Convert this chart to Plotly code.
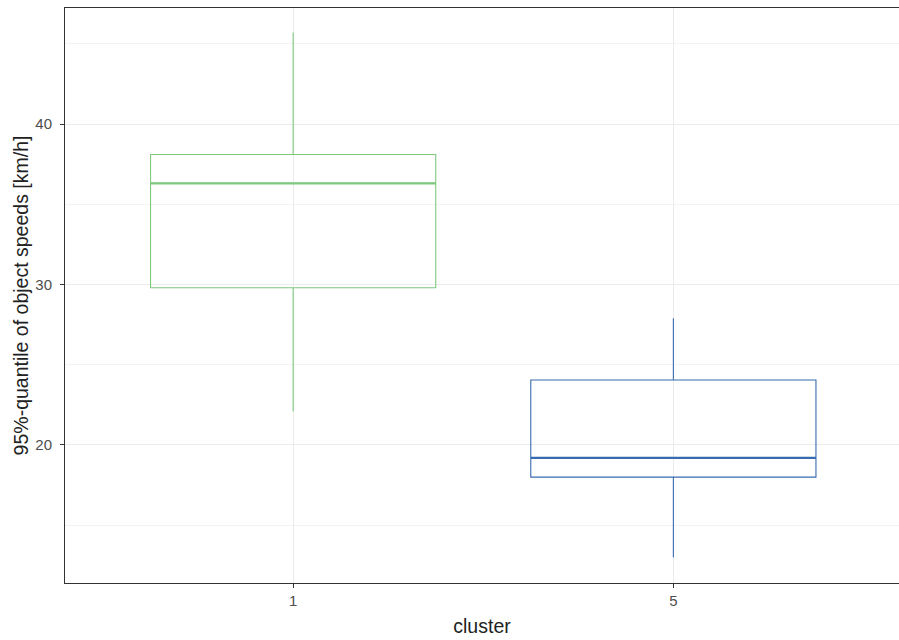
import plotly.graph_objects as go

clusters = ["1", "5"]
lower_whisker = [22.1, 13.0]
q1 = [29.8, 18.0]
median = [36.3, 19.2]
q3 = [38.1, 24.05]
upper_whisker = [45.7, 27.9]
colors = ["#7FC97F", "#386CB0"]

BOX_W = 0.75

fig = go.Figure()
for i, c in enumerate(clusters):
    fig.add_trace(go.Box(
        x=[i], q1=[q1[i]], median=[median[i]], q3=[q3[i]],
        lowerfence=[lower_whisker[i]], upperfence=[upper_whisker[i]],
        width=BOX_W, whiskerwidth=0,
        line=dict(color=colors[i], width=1.1),
        fillcolor="rgba(255,255,255,0)",
        showlegend=False, hoverinfo="skip",
    ))
    fig.add_trace(go.Scatter(
        x=[i - BOX_W / 2, i + BOX_W / 2], y=[median[i], median[i]],
        mode="lines", line=dict(color=colors[i], width=2.4),
        showlegend=False, hoverinfo="skip",
    ))

fig.update_layout(
    width=899, height=640,
    margin=dict(l=65, r=0, t=8, b=57),
    paper_bgcolor="white", plot_bgcolor="white",
    font=dict(family="Liberation Sans, Arial, sans-serif", color="#222222"),
)
fig.update_xaxes(
    range=[-0.6, 1.5934], tickmode="array", tickvals=list(range(len(clusters))),
    ticktext=clusters, showgrid=True, gridcolor="#EBEBEB", gridwidth=1,
    zeroline=False, showline=True, linecolor="#333333", linewidth=1, mirror=True,
    ticks="outside", ticklen=4, tickcolor="#333333",
    tickfont=dict(size=15, color="#4D4D4D"),
    title=dict(text="cluster", font=dict(size=19.5, color="#222222"), standoff=11),
    automargin=False,
)
fig.update_yaxes(
    range=[11.4, 47.23], tickmode="array", tickvals=[20, 30, 40],
    showgrid=True, gridcolor="#EBEBEB", gridwidth=1,
    minor=dict(tickmode="array", tickvals=[15, 25, 35, 45], showgrid=True,
               gridcolor="#F2F2F2", gridwidth=1, ticks=""),
    zeroline=False, showline=True, linecolor="#333333", linewidth=1, mirror=False,
    ticks="outside", ticklen=4, tickcolor="#333333", ticklabelstandoff=5,
    tickfont=dict(size=15, color="#4D4D4D"),
    title=dict(text="95%-quantile of object speeds [km/h]", font=dict(size=19.5, color="#222222"), standoff=1),
    automargin=False,
)

fig.write_html("out.html")
